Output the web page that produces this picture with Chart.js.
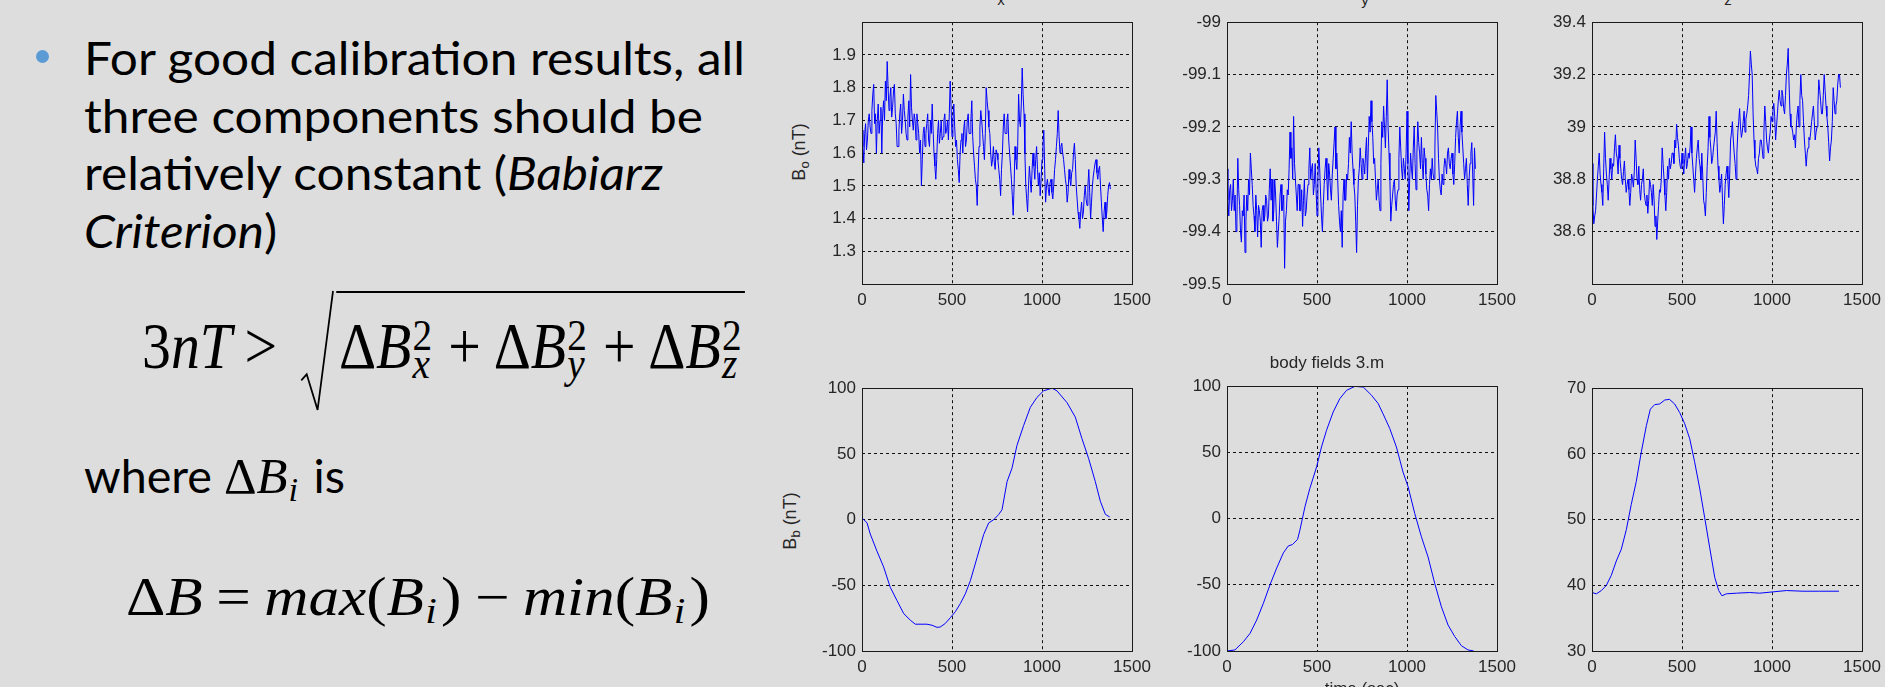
<!DOCTYPE html>
<html>
<head>
<meta charset="utf-8">
<title>Babiarz criterion</title>
<script src="https://cdn.jsdelivr.net/npm/chart.js@4.4.1/dist/chart.umd.min.js"></script>
<style>
  html, body { margin: 0; padding: 0; background: #dddddd; overflow: hidden; }
  #slide { position: relative; width: 1885px; height: 687px; overflow: hidden; background: #dddddd; }
  .line, .math { position: absolute; white-space: nowrap; color: #000; transform-origin: 0 0; line-height: 1; }
  .line { font-family: Lato, 'Open Sans', sans-serif; font-size: 46px; }
  .math, .mi { font-family: 'Liberation Serif', 'DejaVu Serif', serif; font-style: italic; }
  .mi { font-size: 50px; }
  .up { font-style: normal; }
  .op { font-style: normal; margin: 0 0.22em; }
  .bl { display: inline-block; width: 0; height: 0; }
  .ss { display: inline-block; position: relative; width: 0.42em; height: 0; }
  .ss.s1 { width: 0.28em; }
  .ss .sup, .ss .sub { position: absolute; left: 0.03em; font-size: 0.68em; line-height: 1; }
  .ss .sup { bottom: 0.22em; font-style: normal; }
  .ss .sub { bottom: -0.40em; }
  .rad { display: inline-block; position: relative; border-top: 2px solid #000; line-height: 1.6; margin-left: 0.8em; padding-left: 0.05em; }
  .rad svg { position: absolute; left: -0.6em; top: -2px; width: 0.55em; height: 1.8em; overflow: visible; }
  #bullet { position: absolute; left: 36px; top: 50px; width: 13px; height: 13px; border-radius: 50%; background: #5b9bd5; }
  .plot { position: absolute; }
  .ylab { position: absolute; font-family: 'Liberation Sans', Arial, sans-serif; font-size: 18px; color: #262626; white-space: nowrap; transform: translate(-50%, -50%) rotate(-90deg); }
  .ylab sub { font-size: 13px; vertical-align: -4px; line-height: 0; }
  .frag { position: absolute; top: -8px; font-family: 'Liberation Sans', Arial, sans-serif; font-size: 15px; line-height: 15px; color: #262626; transform: translateX(-50%); }
</style>
</head>
<body>
<div id="slide">
  <div id="bullet"></div>
  <div class="line" id="p1">For good calibration results, all<span class="bl"></span></div>
  <div class="line" id="p2">three components should be<span class="bl"></span></div>
  <div class="line" id="p3">relatively constant (<i>Babiarz</i><span class="bl"></span></div>
  <div class="line" id="p4"><i>Criterion</i>)<span class="bl"></span></div>

  <div class="math" id="eq1" style="font-size:66px"><span class="up">3</span>nT<span class="op">&gt;</span><span class="rad"><svg viewBox="0 0 35 117" preserveAspectRatio="none"><polyline points="0,88 6,82 18,117 35,0" fill="none" stroke="#000" stroke-width="2" vector-effect="non-scaling-stroke"/></svg><span class="up">Δ</span>B<span class="ss"><span class="sup">2</span><span class="sub">x</span></span><span class="op">+</span><span class="up">Δ</span>B<span class="ss"><span class="sup">2</span><span class="sub">y</span></span><span class="op">+</span><span class="up">Δ</span>B<span class="ss"><span class="sup">2</span><span class="sub">z</span></span></span><span class="bl"></span></div>

  <div class="line" id="where">where <span class="mi"><span class="up">Δ</span>B<span class="ss s1"><span class="sub">i</span></span></span> is<span class="bl"></span></div>

  <div class="math" id="eq2" style="font-size:54px"><span class="up">Δ</span>B<span class="op">=</span>max<span class="up">(</span>B<span class="ss s1"><span class="sub">i</span></span><span class="up">)</span><span class="op">−</span>min<span class="up">(</span>B<span class="ss s1"><span class="sub">i</span></span><span class="up">)</span><span class="bl"></span></div>

  <div class="ylab" style="left:799px; top:152px">B<sub>o</sub> (nT)</div>
  <div class="ylab" style="left:790px; top:521px">B<sub>b</sub> (nT)</div>
  <span class="frag" style="left:1001px">x</span>
  <span class="frag" style="left:1365px">y</span>
  <span class="frag" style="left:1728px">z</span>
</div>

<script>
// tick values
const xTicks = [0, 500, 1000, 1500];
const oxTicks = [1.3, 1.4, 1.5, 1.6, 1.7, 1.8, 1.9];
const oyTicks = [-99.5, -99.4, -99.3, -99.2, -99.1, -99];
const ozTicks = [38.6, 38.8, 39, 39.2, 39.4];
const bTicks = [-100, -50, 0, 50, 100];
const bzTicks = [30, 40, 50, 60, 70];

// noisy components, read every 10 s ...
const oTime = [0,10,20,30,40,50,60,70,80,90,100,110,120,130,140,150,160,170,180,190,
  200,210,220,230,240,250,260,270,280,290,300,310,320,330,340,350,360,370,380,390,
  400,410,420,430,440,450,460,470,480,490,500,510,520,530,540,550,560,570,580,590,
  600,610,620,630,640,650,660,670,680,690,700,710,720,730,740,750,760,770,780,790,
  800,810,820,830,840,850,860,870,880,890,900,910,920,930,940,950,960,970,980,990,
  1000,1010,1020,1030,1040,1050,1060,1070,1080,1090,1100,1110,1120,1130,1140,1150,1160,1170,1180,1190,
  1200,1210,1220,1230,1240,1250,1260,1270,1280,1290,1300,1310,1320,1330,1340,1350,1360,1370,1380];
// ... and in between
const oMidTime = [5,15,25,35,45,55,65,75,85,95,105,115,125,135,145,155,165,175,185,195,
  205,215,225,235,245,255,265,275,285,295,305,315,325,335,345,355,365,375,385,395,
  405,415,425,435,445,455,465,475,485,495,505,515,525,535,545,555,565,575,585,595,
  605,615,625,635,645,655,665,675,685,695,705,715,725,735,745,755,765,775,785,795,
  805,815,825,835,845,855,865,875,885,895,905,915,925,935,945,955,965,975,985,995,
  1005,1015,1025,1035,1045,1055,1065,1075,1085,1095,1105,1115,1125,1135,1145,1155,1165,1175,1185,1195,
  1205,1215,1225,1235,1245,1255,1265,1275,1285,1295,1305,1315,1325,1335,1345,1355,1365,1375];

const oxVals = [1.67,1.57,1.69,1.64,1.72,1.66,1.78,1.69,1.60,1.75,
  1.70,1.60,1.76,1.82,1.88,1.73,1.80,1.74,1.81,1.69,
  1.62,1.72,1.66,1.78,1.70,1.64,1.76,1.84,1.70,1.72,
  1.64,1.69,1.60,1.50,1.66,1.62,1.69,1.64,1.70,1.75,
  1.60,1.52,1.66,1.63,1.70,1.65,1.72,1.67,1.64,1.82,
  1.65,1.75,1.62,1.58,1.51,1.64,1.60,1.70,1.64,1.72,
  1.66,1.76,1.60,1.52,1.44,1.62,1.73,1.66,1.58,1.80,
  1.73,1.66,1.56,1.62,1.55,1.60,1.55,1.47,1.60,1.72,
  1.66,1.72,1.60,1.52,1.41,1.62,1.55,1.78,1.68,1.86,
  1.72,1.50,1.42,1.56,1.48,1.60,1.52,1.62,1.50,1.47,
  1.58,1.67,1.45,1.52,1.47,1.52,1.46,1.55,1.62,1.73,
  1.60,1.63,1.58,1.52,1.45,1.55,1.50,1.55,1.63,1.50,
  1.42,1.37,1.45,1.42,1.50,1.44,1.55,1.40,1.50,1.55,
  1.58,1.52,1.56,1.45,1.36,1.45,1.42,1.50,1.49];
const oxMid = [1.62,1.66,1.61,1.70,1.68,1.73,1.81,1.72,1.70,1.66,
  1.74,1.72,1.70,1.76,1.80,1.77,1.71,1.79,1.72,1.62,
  1.67,1.75,1.70,1.73,1.66,1.71,1.68,1.74,1.67,1.70,
  1.72,1.66,1.64,1.58,1.68,1.66,1.72,1.62,1.66,1.67,
  1.56,1.58,1.70,1.66,1.64,1.70,1.66,1.70,1.72,1.74,
  1.70,1.68,1.64,1.55,1.60,1.66,1.67,1.62,1.70,1.66,
  1.70,1.65,1.56,1.50,1.54,1.68,1.70,1.62,1.66,1.76,
  1.68,1.60,1.58,1.57,1.61,1.58,1.52,1.55,1.68,1.66,
  1.70,1.64,1.56,1.47,1.50,1.58,1.62,1.70,1.75,1.78,
  1.60,1.46,1.50,1.52,1.55,1.56,1.58,1.55,1.54,1.52,
  1.62,1.55,1.50,1.49,1.51,1.48,1.50,1.58,1.66,1.65,
  1.62,1.60,1.55,1.50,1.48,1.52,1.54,1.60,1.58,1.46,
  1.40,1.42,1.40,1.47,1.46,1.50,1.48,1.45,1.53,1.57,
  1.54,1.55,1.50,1.40,1.42,1.40,1.47,1.51];

const oyVals = [-99.28,-99.37,-99.31,-99.34,-99.36,-99.40,-99.26,-99.35,-99.42,-99.37,
  -99.44,-99.33,-99.30,-99.25,-99.31,-99.37,-99.33,-99.41,-99.36,-99.43,
  -99.35,-99.37,-99.34,-99.37,-99.28,-99.30,-99.36,-99.33,-99.43,-99.37,
  -99.31,-99.35,-99.47,-99.36,-99.33,-99.21,-99.24,-99.18,-99.30,-99.36,
  -99.31,-99.36,-99.39,-99.30,-99.36,-99.31,-99.24,-99.28,-99.33,-99.27,
  -99.37,-99.24,-99.33,-99.40,-99.31,-99.26,-99.34,-99.29,-99.34,-99.26,
  -99.20,-99.25,-99.35,-99.40,-99.43,-99.30,-99.34,-99.30,-99.22,-99.19,
  -99.28,-99.33,-99.44,-99.30,-99.24,-99.30,-99.27,-99.25,-99.30,-99.18,
  -99.15,-99.22,-99.26,-99.34,-99.30,-99.36,-99.19,-99.16,-99.24,-99.11,
  -99.25,-99.38,-99.33,-99.30,-99.36,-99.32,-99.20,-99.28,-99.26,-99.30,
  -99.17,-99.36,-99.25,-99.30,-99.20,-99.32,-99.19,-99.25,-99.22,-99.30,
  -99.26,-99.32,-99.36,-99.28,-99.26,-99.30,-99.14,-99.20,-99.30,-99.33,
  -99.31,-99.26,-99.29,-99.24,-99.28,-99.25,-99.31,-99.22,-99.17,-99.25,
  -99.17,-99.24,-99.30,-99.26,-99.35,-99.27,-99.23,-99.35,-99.28];
const oyMid = [-99.34,-99.32,-99.36,-99.30,-99.33,-99.38,-99.32,-99.40,-99.36,-99.33,
  -99.38,-99.36,-99.33,-99.28,-99.35,-99.40,-99.36,-99.35,-99.38,-99.36,
  -99.38,-99.33,-99.38,-99.32,-99.34,-99.38,-99.30,-99.38,-99.40,-99.33,
  -99.36,-99.33,-99.38,-99.32,-99.28,-99.26,-99.30,-99.27,-99.33,-99.31,
  -99.36,-99.32,-99.34,-99.37,-99.33,-99.28,-99.30,-99.27,-99.31,-99.32,
  -99.30,-99.28,-99.37,-99.35,-99.28,-99.30,-99.27,-99.32,-99.29,-99.23,
  -99.28,-99.30,-99.38,-99.36,-99.33,-99.34,-99.29,-99.27,-99.25,-99.25,
  -99.31,-99.38,-99.35,-99.28,-99.27,-99.26,-99.29,-99.22,-99.24,-99.21,
  -99.19,-99.27,-99.30,-99.32,-99.34,-99.27,-99.22,-99.20,-99.18,-99.20,
  -99.30,-99.35,-99.31,-99.34,-99.33,-99.26,-99.24,-99.30,-99.28,-99.25,
  -99.27,-99.30,-99.28,-99.24,-99.27,-99.25,-99.23,-99.28,-99.27,-99.24,
  -99.29,-99.33,-99.31,-99.30,-99.29,-99.24,-99.17,-99.26,-99.32,-99.29,
  -99.28,-99.27,-99.25,-99.27,-99.26,-99.29,-99.27,-99.19,-99.22,-99.20,
  -99.21,-99.27,-99.28,-99.31,-99.30,-99.25,-99.29,-99.24];

const ozVals = [38.86,38.63,38.68,38.80,38.90,38.78,38.70,38.98,38.82,38.72,
  38.88,38.80,38.85,38.97,38.88,38.93,38.84,38.78,38.87,38.75,
  38.80,38.70,38.82,38.77,38.95,38.80,38.85,38.72,38.80,38.75,
  38.70,38.67,38.80,38.75,38.78,38.62,38.57,38.70,38.75,38.92,
  38.80,38.68,38.85,38.88,38.86,38.90,38.95,39.01,38.93,38.85,
  38.90,38.82,38.92,38.86,38.88,39.00,38.85,38.75,38.88,38.95,
  38.85,38.90,38.72,38.66,38.85,39.04,38.92,38.88,38.95,39.06,
  38.85,38.75,38.82,38.63,38.78,38.85,38.73,38.95,39.02,38.90,
  38.80,38.98,39.07,38.96,39.02,38.98,39.05,39.12,39.29,39.20,
  38.95,38.85,38.82,38.90,38.95,38.88,39.08,38.95,38.90,38.98,
  39.02,39.09,38.95,39.05,39.14,39.08,39.12,39.05,39.20,39.30,
  39.05,39.00,38.95,38.92,39.05,39.00,39.20,39.10,38.95,38.85,
  38.92,38.95,39.02,39.08,38.95,39.00,39.18,39.10,39.05,39.20,
  39.08,39.00,38.87,38.95,39.15,39.05,39.10,39.20,39.15];
const ozMid = [38.70,38.66,38.74,38.85,38.82,38.75,38.84,38.88,38.78,38.80,
  38.84,38.86,38.92,38.90,38.82,38.88,38.80,38.83,38.80,38.78,
  38.76,38.75,38.80,38.83,38.88,38.78,38.76,38.78,38.84,38.72,
  38.74,38.72,38.78,38.70,38.72,38.66,38.64,38.76,38.80,38.86,
  38.74,38.75,38.80,38.84,38.90,38.86,38.92,38.96,38.88,38.84,
  38.86,38.88,38.84,38.90,38.92,38.90,38.80,38.82,38.92,38.88,
  38.80,38.82,38.70,38.75,38.92,38.96,38.86,38.92,38.98,38.94,
  38.80,38.78,38.72,38.70,38.82,38.80,38.82,38.98,38.95,38.86,
  38.90,39.02,39.00,38.98,39.06,39.03,39.08,39.20,39.24,39.05,
  38.88,38.84,38.88,38.95,38.92,38.98,39.02,38.92,38.95,39.04,
  39.06,39.04,39.00,39.10,39.10,39.14,39.07,39.12,39.24,39.16,
  39.00,38.98,38.97,39.00,39.08,39.10,39.12,39.02,38.90,38.90,
  38.96,38.98,39.05,39.02,38.98,39.08,39.14,39.05,39.12,39.14,
  39.04,38.94,38.92,39.02,39.10,39.08,39.16,39.20];

// body fields
const bxTime = [0,28,46,83,120,157,194,232,269,296,361,389,417,435,463,491,519,546,574,602,
  639,676,704,732,759,778,806,833,861,898,935,972,1009,1056,1083,1139,1185,1222,1259,1296,1324,1352,1376];
const bxVals = [1.3,-2.5,-11,-24,-36,-51.5,-61.5,-71.6,-76.6,-79.6,-79.6,-80.4,-82,-81.7,-79,-74.6,-70,-64,-56.5,-46.5,
  -29,-11.3,-2.5,0,3.8,7.5,29,39,56.5,71.6,85.4,93,98,100,98,89,78,61.6,46.5,29,14,4,2];

const byTime = [0,44,91,128,165,202,239,276,313,340,364,392,405,433,460,498,525,553,590,627,
  664,710,757,803,840,867,904,941,978,1006,1043,1080,1117,1154,1191,1228,1265,1302,1339,1371];
const byVals = [-100,-99.2,-93,-86.7,-76.6,-64,-50,-37.4,-26,-20.8,-19.6,-15.8,-8.8,8.8,22.6,39,54,66.6,80.4,90.5,
  96.7,99.7,99.2,93,86.7,79,68,54,35,24,3.8,-13.8,-29,-49,-66.6,-80.4,-89,-96,-99.2,-100];

const bzTime = [0,24,52,80,107,135,163,191,218,246,274,302,324,348,376,404,431,459,487,515,
  543,570,598,626,654,682,704,722,746,802,876,932,1006,1080,1172,1265,1372];
const bzVals = [38.9,38.7,39.2,40.0,41.5,43.7,45.5,48.5,52.3,55.8,60.3,64.3,66.8,67.5,67.6,68.2,68.3,67.6,66.3,64.6,
  62.3,58.8,54.8,50.3,45.7,41.2,39.2,38.4,38.7,38.8,38.9,38.8,39.0,39.2,39.1,39.1,39.1];

function points(times, vals) {
  return times.map((x, i) => ({ x: x, y: vals[i] }));
}
function merged(t1, v1, t2, v2) {
  return points(t1, v1).concat(points(t2, v2)).sort((a, b) => a.x - b.x);
}

// matlab style axes box
const boxPlugin = {
  id: 'axesBox',
  afterDatasetsDraw(chart) {
    const { ctx, chartArea: a } = chart;
    const l = Math.round(a.left), t = Math.round(a.top), r = Math.round(a.right), b = Math.round(a.bottom);
    ctx.save();
    ctx.strokeStyle = '#1a1a1a';
    ctx.lineWidth = 1;
    ctx.strokeRect(l + 0.5, t + 0.5, r - l, b - t);
    ctx.restore();
  }
};

const tickFont = { family: "'Liberation Sans', Arial, sans-serif", size: 17 };

function makePlot(area, data, yMin, yMax, yTicks, extra) {
  extra = extra || {};
  const [L, T, R, B] = area;
  const titleH = extra.title ? 33 : 0;
  const padTop = extra.title ? 0 : 14;
  const xH = extra.xTitle ? 49 : 30;
  const top = T - padTop - titleH;

  const wrap = document.createElement('div');
  wrap.className = 'plot';
  wrap.style.left = (L - 70) + 'px';
  wrap.style.top = top + 'px';
  const canvas = document.createElement('canvas');
  canvas.width = 70 + (R - L) + 30;
  canvas.height = (B - top) + xH;
  wrap.appendChild(canvas);
  document.getElementById('slide').appendChild(wrap);

  const grid = { color: '#111', lineWidth: 1, drawTicks: false };
  const border = { display: false, dash: [3, 3] };

  return new Chart(canvas, {
    type: 'line',
    data: {
      datasets: [{
        data: data,
        borderColor: '#0000ff',
        borderWidth: 1,
        pointRadius: 0,
        tension: 0,
        fill: false
      }]
    },
    options: {
      responsive: false,
      animation: false,
      devicePixelRatio: 1,
      events: [],
      layout: { padding: { left: 0, right: 30, top: padTop, bottom: 0 } },
      plugins: {
        legend: { display: false },
        tooltip: { enabled: false },
        title: {
          display: !!extra.title,
          text: extra.title || '',
          color: '#262626',
          font: { family: tickFont.family, size: 17, weight: 'normal', lineHeight: 1 },
          padding: { top: 2, bottom: 14 }
        }
      },
      scales: {
        x: {
          type: 'linear', min: 0, max: 1500,
          afterBuildTicks: s => { s.ticks = xTicks.map(v => ({ value: v })); },
          afterFit: s => { s.height = xH; },
          ticks: { font: tickFont, color: '#262626', padding: 6, maxRotation: 0, autoSkip: false, callback: v => String(v) },
          grid: grid,
          border: border,
          title: { display: !!extra.xTitle, text: extra.xTitle || '', color: '#262626', font: tickFont, padding: 0 }
        },
        y: {
          type: 'linear', min: yMin, max: yMax,
          afterBuildTicks: s => { s.ticks = yTicks.map(v => ({ value: v })); },
          afterFit: s => { s.width = 70; },
          ticks: { font: tickFont, color: '#262626', padding: 6, callback: v => String(v) },
          grid: grid,
          border: border
        }
      }
    },
    plugins: [boxPlugin]
  });
}

makePlot([862, 20, 1132, 284], merged(oTime, oxVals, oMidTime, oxMid), 1.2, 2.0, oxTicks);
makePlot([1227, 20, 1497, 284], merged(oTime, oyVals, oMidTime, oyMid), -99.5, -99, oyTicks);
makePlot([1592, 20, 1862, 284], merged(oTime, ozVals, oMidTime, ozMid), 38.4, 39.4, ozTicks);
makePlot([862, 386, 1132, 651], points(bxTime, bxVals), -100, 100, bTicks);
makePlot([1227, 386, 1497, 651], points(byTime, byVals), -100, 100, bTicks, { title: 'body fields 3.m', xTitle: 'time (sec)' });
makePlot([1592, 386, 1862, 651], points(bzTime, bzVals), 30, 70, bzTicks);

// put text lines on their baselines, squeeze to the slide's widths
function place(el, left, baseline, width) {
  el.style.left = left + 'px';
  el.style.top = '0px';
  el.style.transform = 'none';
  const mark = el.querySelector('.bl');
  const base0 = mark.getBoundingClientRect().bottom;
  el.style.top = (baseline - base0) + 'px';
  const w = el.getBoundingClientRect().width;
  const k = width ? width / w : 1;
  el.style.transform = 'scaleX(' + k + ')';
  return k;
}

function layoutText() {
  const k = place(document.getElementById('p1'), 84, 75, 661);
  [['p2', 132.5], ['p3', 190], ['p4', 247.5]].forEach(([id, y]) => {
    const el = document.getElementById(id);
    place(el, 84, y, 0);
    el.style.transform = 'scaleX(' + k + ')';
  });
  place(document.getElementById('eq1'), 142, 368, 603);
  place(document.getElementById('where'), 84, 493, 261);
  place(document.getElementById('eq2'), 126, 615, 584);
}

if (document.fonts && document.fonts.ready) {
  layoutText();
  document.fonts.ready.then(layoutText);
} else {
  layoutText();
}
</script>
</body>
</html>
